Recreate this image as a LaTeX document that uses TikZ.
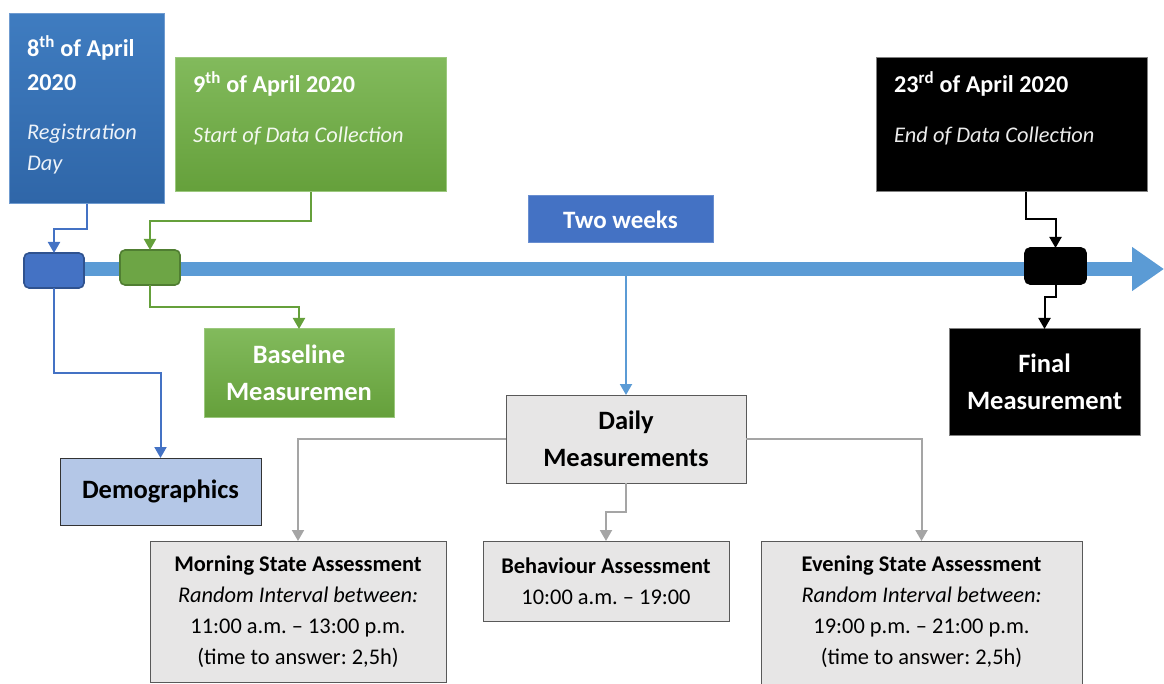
\documentclass[tikz,border=0pt]{standalone}
\usepackage{fontspec}
\setmainfont{Carlito}
\frenchspacing
\usetikzlibrary{arrows.meta}
\definecolor{regblueT}{HTML}{3F7CC0}
\definecolor{regblueB}{HTML}{2F66A8}
\definecolor{regblueD}{HTML}{6F9BD0}
\definecolor{grnT}{HTML}{82BA5C}
\definecolor{grnB}{HTML}{65A03B}
\definecolor{grnD}{HTML}{507E32}
\definecolor{tline}{HTML}{5B9BD5}
\definecolor{accblue}{HTML}{4472C4}
\definecolor{darkblue}{HTML}{2F528F}
\definecolor{lightblue}{HTML}{B4C7E7}
\definecolor{lgray}{HTML}{E7E6E6}
\definecolor{bgray}{HTML}{595959}
\definecolor{agray}{HTML}{A5A5A5}
\begin{document}
\begin{tikzpicture}[x=1pt,y=-1pt,
  box/.style={inner sep=0pt, outer sep=0pt, anchor=north west, line width=1pt},
  mark box/.style={box, rounded corners=5pt, line width=1.6pt, minimum width=60pt, minimum height=35pt},
  graybox/.style={box, draw=bgray, fill=lgray, align=center, text=black},
  conn/.style={line width=2pt, -{Triangle[length=11pt,width=12pt]}},
  bigb/.style={font=\fontsize{26.5}{37}\selectfont\bfseries},
  topb/.style={font=\fontsize{24.2}{30}\selectfont\bfseries, text=white, anchor=base west, inner sep=0pt},
  topi/.style={font=\fontsize{22.4}{30}\selectfont\itshape, anchor=base west, inner sep=0pt},
  smallt/.style={font=\fontsize{22.4}{31}\selectfont}
]
\useasboundingbox (0,0) rectangle (1164,684);

% top date boxes
\node[box, draw=regblueD, top color=regblueT, bottom color=regblueB, minimum width=155pt, minimum height=190pt] (reg) at (9,14) {};
\node[topb] (regt1) at (27,57) {8\textsuperscript{th} of April};
\node[topb] (regt2) at (27,91) {2020};
\node[topi, text=white!90!regblueT] (regt3) at (27,140) {Registration};
\node[topi, text=white!90!regblueT] (regt4) at (27,171) {Day};

\node[box, draw=grnT!80!white, top color=grnT, bottom color=grnB, minimum width=271pt, minimum height=134pt] (start) at (175,58) {};
\node[topb] (startt1) at (193,93) {9\textsuperscript{th} of April 2020};
\node[topi, text=white!90!grnT] (startt2) at (193,143) {Start of Data Collection};

\node[box, draw=gray, fill=black, minimum width=271pt, minimum height=134pt] (endc) at (876,58) {};
\node[topb] (endt1) at (894,93) {23\textsuperscript{rd} of April 2020};
\node[topi, text=white!92!black] (endt2) at (894,143) {End of Data Collection};

% two weeks
\node[box, draw=accblue!80!white, fill=accblue, minimum width=185pt, minimum height=47pt, text=white,
      font=\fontsize{25}{28}\selectfont\bfseries] (tw) at (528,196) {Two weeks};

% timeline
\coordinate (tlstart) at (54,269);
\coordinate (tlend) at (1164,269);
\coordinate (tldrop) at (626,269);

% connectors from timeline (behind)
\node[graybox, minimum width=240pt, minimum height=88pt, bigb] (daily) at (506,395) {Daily\\Measurements};
\draw[conn, draw=tline] (tldrop) -- (daily.north);
\draw[line width=14pt, draw=tline, -{Triangle[length=32pt,width=42pt]}] (tlstart) -- (tlend);

% marker boxes
\node[mark box, draw=darkblue, fill=accblue] (sb) at (24,253) {};
\node[mark box, draw=grnD, fill=grnB!95!white] (sg) at (120,250) {};
\node[mark box, draw=black, fill=black, minimum width=61pt, minimum height=36pt] (sk) at (1025,248) {};

% result boxes
\node[box, draw=black!80, fill=lightblue, minimum width=201pt, minimum height=67pt, bigb, text=black] (demo) at (60,458) {Demographics};
\node[box, draw=grnT!80!white, top color=grnT, bottom color=grnB, minimum width=190pt, minimum height=88pt, bigb, text=white, align=center] (base) at (204,329) {Baseline\\Measuremen};
\node[box, draw=gray, fill=black, minimum width=191pt, minimum height=106pt, bigb, text=white, align=center] (final) at (949,329) {Final\\Measurement};

% assessment boxes
\node[graybox, minimum width=296pt, minimum height=141pt, smallt] (morn) at (150,541)
  {\textbf{Morning State Assessment}\\\textit{Random Interval between:}\\11:00 a.m. – 13:00 p.m.\\(time to answer: 2,5h)};
\node[graybox, minimum width=246pt, minimum height=80pt, smallt] (beh) at (483,541)
  {\textbf{Behaviour Assessment}\\10:00 a.m. – 19:00};
\node[graybox, minimum width=321pt, minimum height=150pt] (eve) at (761,541) {};
\node[smallt, align=center, inner sep=0pt] (evet) at (921.5,611.5)
  {\textbf{Evening State Assessment}\\\textit{Random Interval between:}\\19:00 p.m. – 21:00 p.m.\\(time to answer: 2,5h)};

% connectors
\draw[conn, draw=accblue] (reg.south) -- ++(0,25) -| (sb.north);
\draw[conn, draw=grnB] (start.south) -- ++(0,29) -| (sg.north);
\draw[conn, draw=black] ([xshift=14.5pt]endc.south) -- ++(0,27) -| (sk.north);
\draw[conn, draw=black] (sk.south) -- ++(0,13) -| (final.north);
\draw[conn, draw=accblue] (sb.south) -- ++(0,85) -| (demo.north);
\draw[conn, draw=grnB] (sg.south) -- ++(0,22) -| (base.north);
\draw[conn, draw=agray] (daily.west) -| (morn.north);
\draw[conn, draw=agray] (daily.east) -| (eve.north);
\draw[conn, draw=agray] (daily.south) -- ++(0,29) -| (beh.north);
\end{tikzpicture}
\end{document}
